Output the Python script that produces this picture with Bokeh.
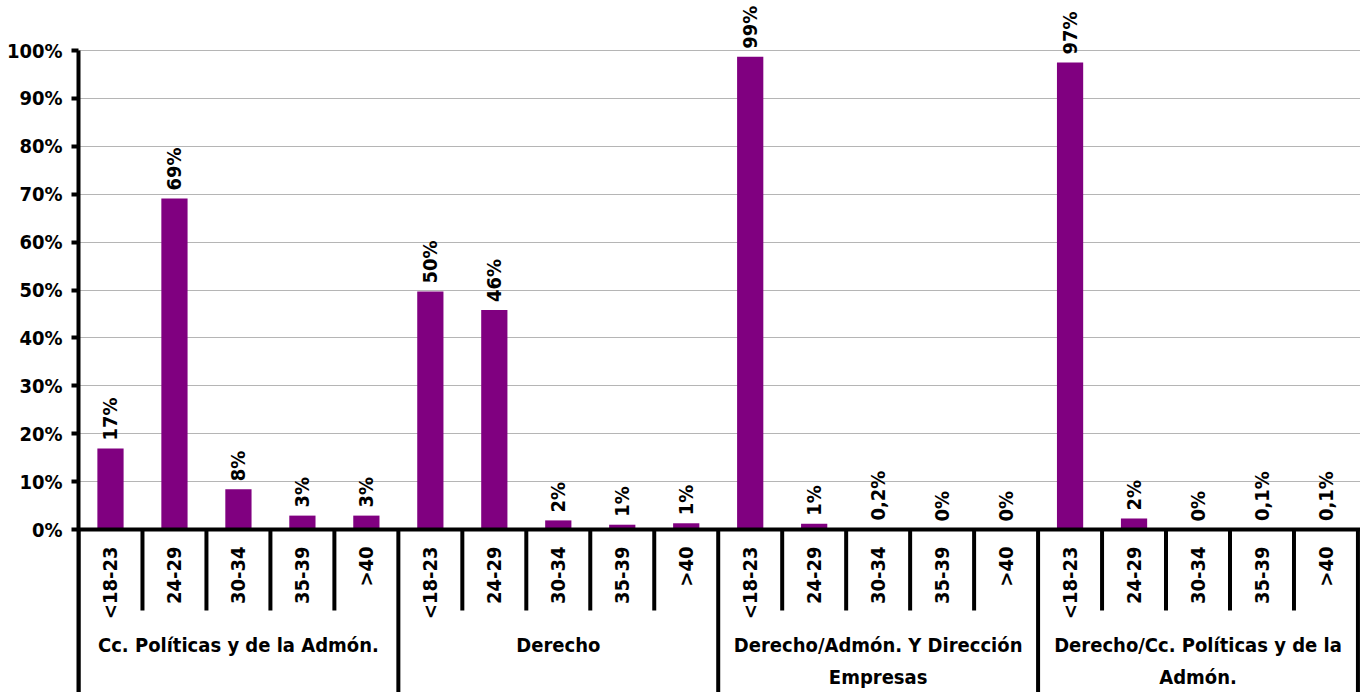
import math
from bokeh.plotting import figure
from bokeh.models import Range1d, FixedTicker, ColumnDataSource, Span, LabelSet
from bokeh.core.properties import value
from bokeh.embed import file_html
from bokeh.resources import INLINE

# ---- data ----
groups = ["Cc. Políticas y de la Admón.", "Derecho",
          "Derecho/Admón. Y Dirección\nEmpresas", "Derecho/Cc. Políticas y de la\nAdmón."]
ages = ["<18-23", "24-29", "30-34", "35-39", ">40"]
cc_politicas = [16.9, 69.1, 8.4, 2.9, 2.9]
derecho = [49.7, 45.8, 1.9, 1.0, 1.3]
derecho_ade = [98.7, 1.2, 0.2, 0.0, 0.0]
derecho_ccpol = [97.5, 2.3, 0.0, 0.1, 0.1]
labels_cc_politicas = ["17%", "69%", "8%", "3%", "3%"]
labels_derecho = ["50%", "46%", "2%", "1%", "1%"]
labels_derecho_ade = ["99%", "1%", "0,2%", "0%", "0%"]
labels_derecho_ccpol = ["97%", "2%", "0%", "0,1%", "0,1%"]
y_ticks = [0, 10, 20, 30, 40, 50, 60, 70, 80, 90, 100]

series = [cc_politicas, derecho, derecho_ade, derecho_ccpol]
series_labels = [labels_cc_politicas, labels_derecho, labels_derecho_ade, labels_derecho_ccpol]

FONT = "DejaVu Sans Condensed"
PURPLE = "#800080"

n_per = len(ages)
n_tot = n_per * len(groups)

xs, vals, vlabels, cats = [], [], [], []
for g, (vals_g, labs_g) in enumerate(zip(series, series_labels)):
    for i in range(n_per):
        xs.append(g * n_per + i + 0.5)
        vals.append(vals_g[i])
        vlabels.append(labs_g[i])
        cats.append(ages[i])

src = ColumnDataSource(dict(x=xs, top=vals, vlab=vlabels, cat=cats))

H = 692
px_per_unit = 4.79
y_start = -(H - 529) / px_per_unit
y_end = 529 / px_per_unit

p = figure(width=1360, height=H, output_backend="svg", toolbar_location=None,
           x_range=Range1d(0, n_tot + 0.04), y_range=Range1d(y_start, y_end),
           min_border_left=78, min_border_right=0, min_border_top=0, min_border_bottom=0)
p.outline_line_color = None
p.xaxis.visible = False
p.xgrid.visible = False
p.ygrid.ticker = FixedTicker(ticks=y_ticks[1:])
p.ygrid.grid_line_color = "#b5b5b5"
p.ygrid.grid_line_width = 1

ax = p.yaxis[0]
ax.ticker = FixedTicker(ticks=y_ticks)
ax.major_label_overrides = {t: f"{t}%" for t in y_ticks}
ax.bounds = (y_start, 100)
ax.axis_line_width = 4
ax.axis_line_color = "black"
ax.major_tick_line_width = 4
ax.major_tick_line_color = "black"
ax.major_tick_out = 7
ax.major_tick_in = 0
ax.minor_tick_line_color = None
ax.major_label_text_font = FONT
ax.major_label_text_font_style = "bold"
ax.major_label_text_font_size = "20px"
ax.major_label_text_color = "black"
ax.major_label_standoff = 9

# bars
p.vbar(x="x", top="top", bottom=0, width=0.41, source=src, fill_color=PURPLE, line_color=None)

# baseline
p.add_layout(Span(location=0, dimension="width", line_color="black", line_width=4))

# separators
sep_x = list(range(0, n_tot + 1))
sep_y1 = [y_start if k % n_per == 0 else -81 / px_per_unit for k in sep_x]
p.segment(x0=sep_x, y0=[0] * len(sep_x), x1=sep_x, y1=sep_y1, line_color="black", line_width=4)

common = dict(text_font=value(FONT), text_font_style="bold", text_font_size="20px",
              text_color="black")
# value labels
p.add_layout(LabelSet(x="x", y="top", text="vlab", source=src, angle=math.pi / 2,
                      y_offset=8, text_align="left", text_baseline="middle", **common))
# category labels
p.add_layout(LabelSet(x="x", y=0, text="cat", source=src, angle=math.pi / 2,
                      y_offset=-17, text_align="right", text_baseline="middle", **common))
# group labels (one label per line so each line is centred)
for line_no, off in enumerate([-115, -147]):
    gx, gt = [], []
    for g, name in enumerate(groups):
        parts = name.split("\n")
        if line_no < len(parts):
            gx.append(g * n_per + n_per / 2)
            gt.append(parts[line_no])
    gsrc = ColumnDataSource(dict(x=gx, y=[0] * len(gx), t=gt))
    p.add_layout(LabelSet(x="x", y="y", text="t", source=gsrc, y_offset=off,
                          text_align="center", text_baseline="middle", **common))

open("out.html", "w").write(file_html(p, INLINE))
